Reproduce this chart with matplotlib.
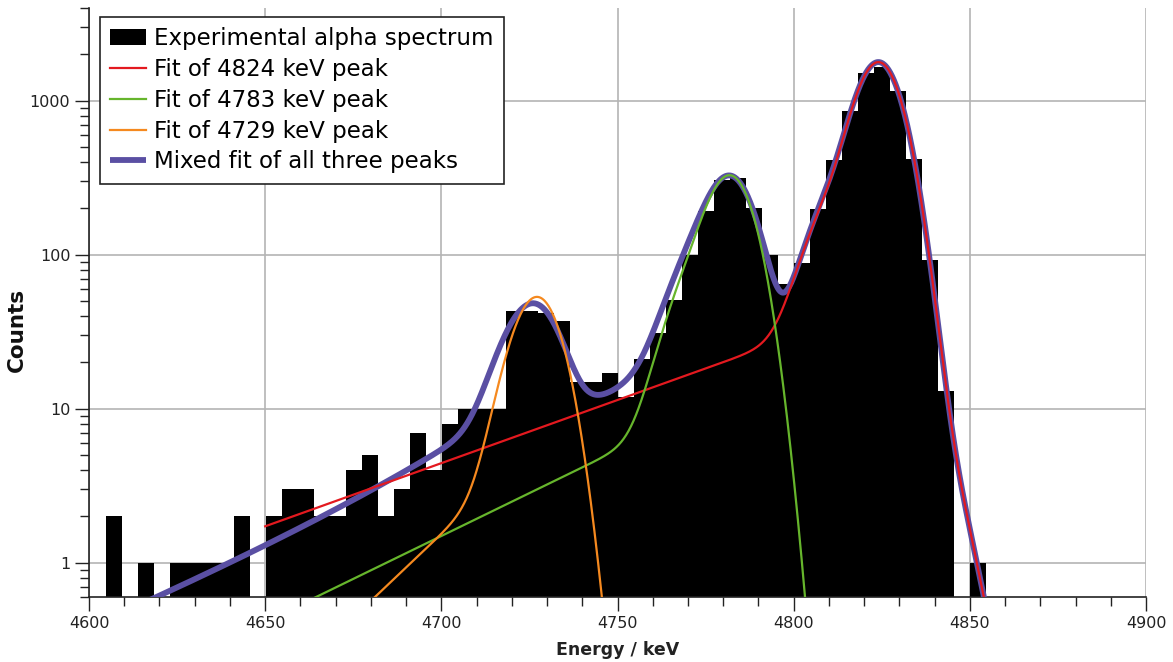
import math
import numpy as np
import matplotlib
matplotlib.use("Agg")
import matplotlib.pyplot as plt
from matplotlib.ticker import FixedLocator, FormatStrFormatter, MultipleLocator, LogLocator, NullFormatter

# ---- measured alpha spectrum (regular energy bins) ----
bin_start_keV = 4604.8
bin_width_keV = 4.54
counts = [2, 0, 1, 0, 1, 1, 1, 1, 2, 0,
          2, 3, 3, 2, 2, 4, 5, 2, 3, 7,
          4, 8, 10, 10, 10, 43, 43, 42, 37, 15,
          15, 17, 12, 21, 31, 51, 100, 191, 308, 315,
          201, 100, 65, 88, 198, 411, 858, 1511, 1650, 1158,
          420, 92, 13, 0, 1]

# ---- fitted peak parameters ----
# (centroid, amplitude, sigma, satellite shift, satellite amp, satellite sigma,
#  low-energy tail amp, tail decay length, wing amp, wing sigma)
fit_4824 = [4824.3, 1690, 5.8, -12.0, 172, 7.1, 46.0, 53.0, 28.0, 10.7]
fit_4783 = [4782.4, 300, 5.9, -10.0, 60, 7.0, 12.2, 39.0, 0.0, 1.0]
fit_4729 = [4727.8, 47, 6.0, -6.0, 6, 6.0, 5.9, 20.0, 0.0, 1.0]
mixed_fit = [
    [4824.3, 1690, 5.8, -12.0, 195, 7.1, 36.0, 47.0, 28.0, 10.7],
    [4782.4, 280, 6.1, -10.0, 66, 7.0, 15.5, 33.0, 0.0, 1.0],
    [4727.8, 30, 6.0, -7.0, 14, 6.0, 5.9, 20.0, 0.0, 1.0],
]
fit_range_4824 = (4650, 4860)
fit_range_all = (4600, 4860)

x_ticks = [4600, 4650, 4700, 4750, 4800, 4850, 4900]
y_ticks = [1, 10, 100, 1000]

legend_labels = ["Experimental alpha spectrum", "Fit of 4824 keV peak",
                 "Fit of 4783 keV peak", "Fit of 4729 keV peak",
                 "Mixed fit of all three peaks"]

_erfc = np.vectorize(math.erfc)


def gauss(E, mu, amp, sigma):
    return amp * np.exp(-0.5 * ((E - mu) / sigma) ** 2)


def low_tail(E, mu, amp, tau, sigma):
    z = (E - mu) / sigma + sigma / tau
    return amp * 0.5 * np.exp((E - mu) / tau + sigma ** 2 / (2 * tau ** 2)) * _erfc(z / math.sqrt(2))


def alpha_peak(E, p):
    mu, amp, sig, s_shift, s_amp, s_sig, t_amp, tau, w_amp, w_sig = p
    return (gauss(E, mu, amp, sig) + gauss(E, mu + s_shift, s_amp, s_sig)
            + low_tail(E, mu, t_amp, tau, sig) + gauss(E, mu, w_amp, w_sig))


fig = plt.figure(figsize=(11.73, 6.62), dpi=100)
ax = fig.add_axes([0.0759, 0.0982, 0.9011, 0.8897])
ax.set_yscale("log")

edges = bin_start_keV + bin_width_keV * np.arange(len(counts) + 1)
ax.bar(edges[:-1], counts, width=bin_width_keV, align="edge", color="black",
       linewidth=0, zorder=2, label=legend_labels[0])

E_all = np.linspace(*fit_range_all, 1500)
E_red = np.linspace(*fit_range_4824, 1200)

mixed = sum(alpha_peak(E_all, p) for p in mixed_fit)
ax.plot(E_all, mixed, color="#5a4fa3", lw=4.2, zorder=3, label=legend_labels[4],
        solid_capstyle="butt")
ax.plot(E_red, alpha_peak(E_red, fit_4824), color="#e3191f", lw=1.6, zorder=4,
        label=legend_labels[1])
ax.plot(E_all, alpha_peak(E_all, fit_4783), color="#66b52c", lw=1.6, zorder=4,
        label=legend_labels[2])
ax.plot(E_all, alpha_peak(E_all, fit_4729), color="#f5891f", lw=1.6, zorder=4,
        label=legend_labels[3])

ax.set_xlim(4600, 4900)
ax.set_ylim(0.6, 4000)

ax.xaxis.set_major_locator(FixedLocator(x_ticks))
ax.xaxis.set_minor_locator(MultipleLocator(10))
ax.yaxis.set_major_locator(FixedLocator(y_ticks))
ax.yaxis.set_major_formatter(FormatStrFormatter("%d"))
ax.yaxis.set_minor_locator(LogLocator(base=10, subs=np.arange(2, 10)))
ax.yaxis.set_minor_formatter(NullFormatter())

ax.tick_params(which="major", direction="out", length=10, width=1.0,
               labelsize=11.5, color="#222222", labelcolor="#222222")
ax.tick_params(which="minor", direction="out", length=6.5, width=1.0, color="#222222")
ax.tick_params(axis="x", which="major", pad=4)

for side in ("top", "right"):
    ax.spines[side].set_visible(False)
for side in ("left", "bottom"):
    ax.spines[side].set_linewidth(1.2)
    ax.spines[side].set_color("#222222")

ax.grid(True, which="major", color="#b4b4b4", linewidth=1.2, zorder=0)
ax.set_axisbelow(True)

ax.set_xlabel("Energy / keV", fontsize=12.5, fontweight="bold", color="#222222")
ax.set_ylabel("Counts", fontsize=15.5, fontweight="bold", color="#111111")
ax.yaxis.set_label_coords(-0.0587, 0.453)
ax.xaxis.set_label_coords(0.5, -0.075)

handles, labels = ax.get_legend_handles_labels()
order = [labels.index(l) for l in legend_labels]
leg = ax.legend([handles[i] for i in order], [labels[i] for i in order],
                loc="upper left", bbox_to_anchor=(0.0104, 0.985), borderaxespad=0,
                fontsize=16.5, frameon=True, fancybox=False, framealpha=1,
                edgecolor="#222222", handlelength=1.55, handletextpad=0.35,
                labelspacing=0.34, borderpad=0.45)
leg.get_frame().set_linewidth(1.2)

fig.savefig("out.png", dpi=100)
